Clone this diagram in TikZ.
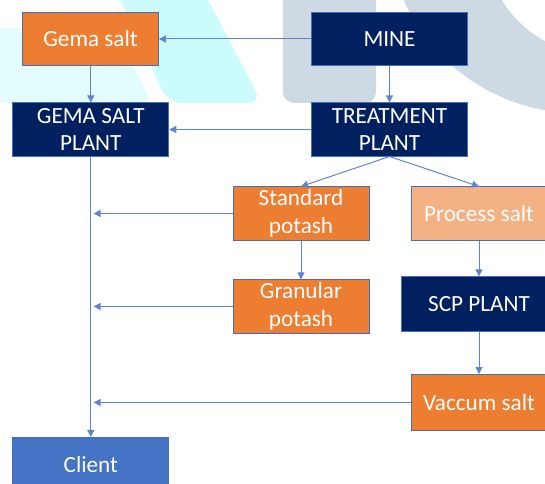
\documentclass[tikz,border=0pt]{standalone}
\usepackage{fontspec}
\setmainfont{Carlito}
\usetikzlibrary{shapes,arrows.meta,positioning,calc}

\begin{document}
\begin{tikzpicture}[
        every node/.style={font=\fontsize{16.5}{19.5}\selectfont},
        box/.style={draw=boxedge, line width=0.6pt, text=white, minimum width=3.4cm, minimum height=1.33cm, align=center, inner sep=1pt},
        orangebox/.style={box, fill=potorange},
        navybox/.style={box, fill=minenavy, minimum width=3.9cm},
        flow/.style={draw=flowblue, line width=0.7pt, -{Triangle[length=5pt,width=5pt]}}
    ]
        \definecolor{potorange}{RGB}{237,125,49}
        \definecolor{saltpeach}{RGB}{244,177,131}
        \definecolor{minenavy}{RGB}{0,32,96}
        \definecolor{clientblue}{RGB}{68,114,196}
        \definecolor{boxedge}{RGB}{72,110,180}
        \definecolor{flowblue}{RGB}{92,132,208}
        \definecolor{markcyan}{RGB}{204,251,252}
        \definecolor{markcyanlight}{RGB}{227,252,253}
        \definecolor{markgray}{RGB}{205,217,227}

        % Page frame
        \useasboundingbox (0,0) rectangle (13.625,12.1);
        \clip (0,0) rectangle (13.625,12.1);

        % Watermark in the background
        \fill[markcyanlight, rounded corners=8pt] (-0.5,11.4) -- (2.875,11.4) -- (3.8,9.525) -- (-0.5,9.525) -- cycle;
        \fill[markcyan, rounded corners=10pt] (2.77,12.6) -- (4.94,12.6) -- (6.55,9.525) -- (4.2,9.525) -- cycle;
        \fill[markgray] (14.45,14.05) circle (4.775);
        \fill[white] (15.0,13.6) circle (2.875);
        \fill[markgray, rounded corners=8pt] (7.07,9.525) rectangle (9.4,12.6);

        % Top row
        \node[orangebox] (gema) at (2.2625,11.125) {Gema salt};
        \node[navybox] (mine) at (9.7375,11.125) {MINE};

        % Plants
        \node[navybox] (gemaplant) at (2.27,8.8625) {GEMA SALT\\PLANT};
        \node[navybox] (treat) at (9.7375,8.8625) {TREATMENT\\PLANT};

        % Products of the treatment plant
        \node[orangebox] (standard) at (7.525,6.7625) {Standard\\potash};
        \node[box, fill=saltpeach] (process) at (11.975,6.7625) {Process salt};
        \node[orangebox] (granular) at (7.525,4.4375) {Granular\\potash};
        \node[navybox, minimum height=1.36cm] (scp) at (11.975,4.5) {SCP PLANT};
        \node[orangebox, minimum height=1.4cm] (vaccum) at (11.975,2.0375) {Vaccum salt};

        % Client
        \node[box, fill=clientblue, minimum width=3.9cm, minimum height=1.35cm] (client) at (2.27,0.49) {Client};

        % Flows from the mine
        \draw[flow] (mine.west) -- (gema.east);
        \draw[flow] (mine.south) -- (treat.north);
        \draw[flow] (gema.south -| gemaplant.north) -- (gemaplant.north);
        \draw[flow] (treat.west) -- (gemaplant.east);

        % Treatment plant branches
        \draw[flow] (treat.south) -- (standard.north);
        \draw[flow] (treat.south) -- (process.north);
        \draw[flow] (standard.south) -- (granular.north);
        \draw[flow] (process.south) -- (scp.north);
        \draw[flow] (scp.south) -- (vaccum.north);

        % Everything goes down to the client
        \draw[flow] (gemaplant.south) -- (client.north);
        \draw[flow, shorten >=2pt] (standard.west) -- (standard.west -| client.north);
        \draw[flow, shorten >=2pt] (granular.west) -- (granular.west -| client.north);
        \draw[flow, shorten >=2pt] (vaccum.west) -- (vaccum.west -| client.north);
    \end{tikzpicture}
\end{document}
